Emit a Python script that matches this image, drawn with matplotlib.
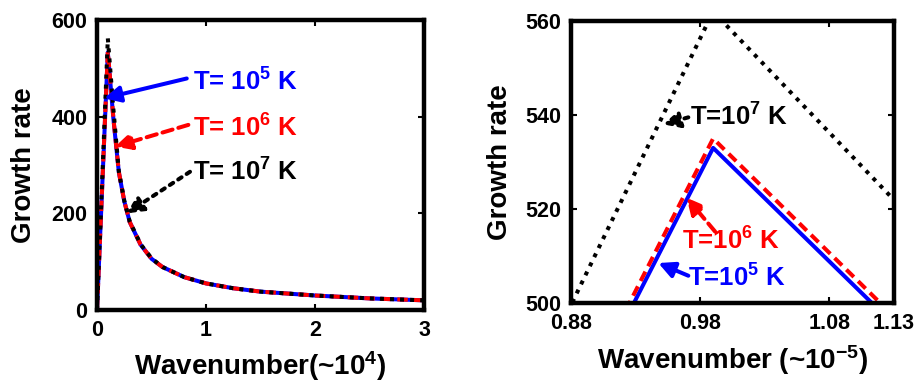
import numpy as np
import matplotlib.pyplot as plt

# ---------------- data ----------------
# wavenumber in units of the left panel (x10^4); right panel shows it x10
k = [0, 0.099, 0.15, 0.2, 0.25, 0.3, 0.4, 0.5, 0.6, 0.8, 1.0, 1.25, 1.5, 2.0, 2.5, 3.0]
growth_T5 = [0, 533, 396, 285, 225, 182, 135, 106, 89, 68, 55, 45, 38, 30, 24, 20]
growth_T6 = [0, 535, 397, 286, 225, 182, 135, 106, 89, 68, 55, 45, 38, 30, 24, 20]
growth_T7 = [0, 562, 416, 287, 226, 183, 136, 107, 89, 68, 55, 45, 38, 30, 24, 20]
zoom_factor = 10

labels_left = [r"T= $10^5$ K", r"T= $10^6$ K", r"T= $10^7$ K"]
labels_right = [r"T=$10^5$ K", r"T=$10^6$ K", r"T=$10^7$ K"]

left_xticks = [0, 1, 2, 3]
left_yticks = [0, 200, 400, 600]
right_xticks = [0.88, 0.98, 1.08, 1.13]
right_yticks = [500, 520, 540, 560]

# ---------------- style ----------------
plt.rcParams.update({
    "font.family": "Liberation Sans",
    "font.weight": "bold",
    "mathtext.fontset": "custom",
    "mathtext.rm": "Liberation Sans:bold",
    "mathtext.it": "Liberation Sans:bold",
    "mathtext.bf": "Liberation Sans:bold",
    "mathtext.default": "rm",
})

LW = 2.9
styles = [
    dict(color="blue", linestyle="-"),
    dict(color="red", linestyle=(0, (2.6, 1.5))),
    dict(color="black", linestyle=(0, (1, 1.5))),
]
series = [growth_T5, growth_T6, growth_T7]


def style_axes(ax):
    for s in ax.spines.values():
        s.set_linewidth(3.2)
    ax.tick_params(direction="in", top=True, right=True, length=4, width=1.5,
                   labelsize=15.5, pad=7)
    for lab in ax.get_xticklabels() + ax.get_yticklabels():
        lab.set_fontweight("bold")


def arrow(ax, tail, tip, st):
    ax.annotate("", xy=tip, xytext=tail,
                arrowprops=dict(arrowstyle="-|>", mutation_scale=24, lw=LW,
                                color=st["color"], linestyle=st["linestyle"],
                                shrinkA=0, shrinkB=0))


fig = plt.figure(figsize=(9.18, 3.83), dpi=100)

# ---------------- left panel ----------------
ax1 = fig.add_axes([0.1057, 0.1906, 0.3562, 0.7572])
for g, st in zip(series, styles):
    ax1.plot(k, g, lw=LW, **st)
ax1.set_xlim(0, 3)
ax1.set_ylim(0, 600)
ax1.set_xticks(left_xticks)
ax1.set_yticks(left_yticks)
ax1.set_xlabel(r"Wavenumber(~$10^4$)", fontsize=20, fontweight="bold", labelpad=6)
ax1.set_ylabel("Growth rate", fontsize=20, fontweight="bold", labelpad=10)
style_axes(ax1)

left_text = [(0.88, 472), (0.88, 376), (0.88, 286)]
left_tail = [(0.823, 479), (0.838, 383), (0.853, 286)]
left_tip = [(0.065, 438), (0.165, 338), (0.272, 200)]
for lab, tp, tl, tip, st in zip(labels_left, left_text, left_tail, left_tip, styles):
    arrow(ax1, tl, tip, st)
    ax1.text(tp[0], tp[1], lab, color=st["color"], fontsize=18.5,
             fontweight="bold", ha="left", va="center")

# ---------------- right panel ----------------
ax2 = fig.add_axes([0.622, 0.2089, 0.3519, 0.7363])
k_zoom = [v * zoom_factor for v in k]
for g, st in zip(series, styles):
    ax2.plot(k_zoom, g, lw=LW, **st)
ax2.set_xlim(0.88, 1.13)
ax2.set_ylim(500, 560)
ax2.set_xticks(right_xticks)
ax2.set_xticklabels(["0.88", "0.98", "1.08", "1.13"])
ax2.set_yticks(right_yticks)
ax2.set_xlabel(r"Wavenumber (~$10^{-5}$)", fontsize=20, fontweight="bold", labelpad=7)
ax2.set_ylabel("Growth rate", fontsize=20, fontweight="bold", labelpad=9)
style_axes(ax2)

right_text = [(0.9708, 505.3), (0.9657, 513.1), (0.972, 539.5)]
right_tail = [(0.9708, 505.8), (0.9915, 515.2), (0.9708, 539.5)]
right_tip = [(0.9476, 508.5), (0.9695, 522.4), (0.9514, 538.0)]
for lab, tp, tl, tip, st in zip(labels_right, right_text, right_tail, right_tip, styles):
    arrow(ax2, tl, tip, st)
    ax2.text(tp[0], tp[1], lab, color=st["color"], fontsize=18.5,
             fontweight="bold", ha="left", va="center")

fig.savefig("out.png", dpi=100)
